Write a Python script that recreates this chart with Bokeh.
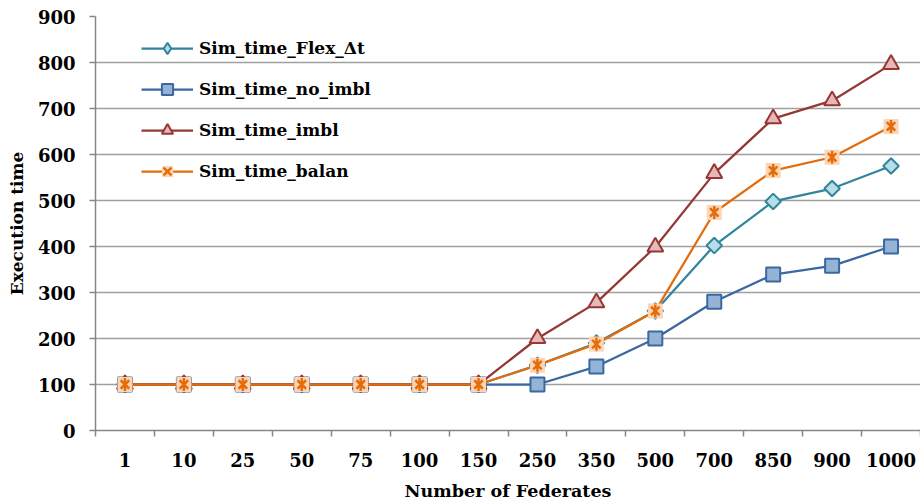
import numpy as np
from bokeh.plotting import figure
from bokeh.models import Range1d, FixedTicker, Legend, LegendItem
from bokeh.embed import file_html
from bokeh.resources import INLINE

categories = ["1", "10", "25", "50", "75", "100", "150", "250", "350", "500", "700", "850", "900", "1000"]
sim_flex = [100, 100, 100, 100, 100, 100, 100, 142, 190, 260, 402, 498, 526, 575]
sim_no_imbl = [100, 100, 100, 100, 100, 100, 100, 100, 139, 200, 280, 339, 358, 400]
sim_imbl = [100, 100, 100, 100, 100, 100, 100, 200, 278, 399, 559, 678, 717, 796]
sim_balan = [100, 100, 100, 100, 100, 100, 100, 142, 188, 260, 474, 565, 594, 661]
y_ticks = [0, 100, 200, 300, 400, 500, 600, 700, 800, 900]

FONT = "DejaVu Serif"
n = len(categories)
xs = np.arange(n) + 0.5

p = figure(width=920, height=503, output_backend="svg", toolbar_location=None,
           x_range=Range1d(0, n), y_range=Range1d(0, 900),
           min_border_left=95, min_border_right=0, min_border_top=16, min_border_bottom=73)
p.outline_line_color = None
p.background_fill_color = "white"
p.border_fill_color = "white"

# grid
p.xgrid.grid_line_color = None
p.ygrid.grid_line_color = "#a0a0a0"
p.ygrid.grid_line_width = 1.3
p.ygrid.ticker = FixedTicker(ticks=y_ticks)

# y axis
p.yaxis.ticker = FixedTicker(ticks=y_ticks)
p.yaxis.axis_line_color = "#868686"
p.yaxis.axis_line_width = 1.5
p.yaxis.major_tick_line_color = "#868686"
p.yaxis.major_tick_line_width = 1.5
p.yaxis.major_tick_out = 6
p.yaxis.major_tick_in = 0
p.yaxis.minor_tick_line_color = None
p.yaxis.major_label_standoff = 14
p.yaxis.major_label_text_font = FONT
p.yaxis.major_label_text_font_style = "bold"
p.yaxis.major_label_text_font_size = "18px"
p.yaxis.major_label_text_color = "black"
p.yaxis.axis_label = "Execution time"
p.yaxis.axis_label_text_font = FONT
p.yaxis.axis_label_text_font_style = "bold"
p.yaxis.axis_label_text_font_size = "17px"
p.yaxis.axis_label_text_color = "black"
p.yaxis.axis_label_standoff = 8

# x axis: labels at category centres, ticks at boundaries (minor ticks)
p.xaxis.ticker = FixedTicker(ticks=list(xs), minor_ticks=list(range(n + 1)))
p.xaxis.major_label_overrides = {float(x): c for x, c in zip(xs, categories)}
p.xaxis.axis_line_color = "#868686"
p.xaxis.axis_line_width = 1.5
p.xaxis.major_tick_line_color = None
p.xaxis.major_tick_out = 0
p.xaxis.major_tick_in = 0
p.xaxis.minor_tick_line_color = "#868686"
p.xaxis.minor_tick_line_width = 1.5
p.xaxis.minor_tick_out = 6
p.xaxis.minor_tick_in = 0
p.xaxis.major_label_standoff = 16
p.xaxis.major_label_text_font = FONT
p.xaxis.major_label_text_font_style = "bold"
p.xaxis.major_label_text_font_size = "18px"
p.xaxis.major_label_text_color = "black"
p.xaxis.axis_label = "Number of Federates"
p.xaxis.axis_label_text_font = FONT
p.xaxis.axis_label_text_font_style = "bold"
p.xaxis.axis_label_text_font_size = "17.5px"
p.xaxis.axis_label_text_color = "black"
p.xaxis.axis_label_standoff = 11

# series
c_flex, f_flex = "#31859c", "#b7dee8"
c_no, f_no = "#3b68a0", "#95b3d7"
c_im, f_im = "#953735", "#e6b9b8"
c_ba, f_ba = "#e46c0a", "#fcd5b5"
LW = 2.25

l1 = p.line(xs, sim_flex, line_color=c_flex, line_width=LW)
# diamond hidden under the rotated square; used for the legend glyph
m1_leg = p.scatter(xs, sim_flex, marker="diamond", size=13,
                   fill_color=f_flex, line_color=c_flex, line_width=2)
m1 = p.scatter(xs, sim_flex, marker="square", angle=np.pi / 4, size=11,
               fill_color=f_flex, line_color=c_flex, line_width=2)

l2 = p.line(xs, sim_no_imbl, line_color=c_no, line_width=LW)
m2 = p.scatter(xs, sim_no_imbl, marker="square", size=14,
               fill_color=f_no, line_color=c_no, line_width=2)

l3 = p.line(xs, sim_imbl, line_color=c_im, line_width=LW)
m3 = p.scatter(xs, sim_imbl, marker="triangle", size=16,
               fill_color=f_im, line_color=c_im, line_width=2)

l4 = p.line(xs, sim_balan, line_color=c_ba, line_width=LW)
m4a = p.scatter(xs, sim_balan, marker="square", size=15,
                fill_color=f_ba, line_color=None)
m4b = p.scatter(xs, sim_balan, marker="x", size=12,
                line_color=c_ba, line_width=2.5)
m4c = p.scatter(xs, sim_balan, marker="dash", angle=np.pi / 2, size=13,
                line_color=c_ba, line_width=2.5)

legend = Legend(items=[
    LegendItem(label="Sim_time_Flex_Δt", renderers=[l1, m1_leg]),
    LegendItem(label="Sim_time_no_imbl", renderers=[l2, m2]),
    LegendItem(label="Sim_time_imbl", renderers=[l3, m3]),
    LegendItem(label="Sim_time_balan", renderers=[l4, m4a, m4b]),
], location=(46, 245))
legend.background_fill_alpha = 0
legend.border_line_color = None
legend.padding = 0
legend.margin = 0
legend.glyph_width = 52
legend.glyph_height = 28
legend.label_height = 28
legend.spacing = 13
legend.label_standoff = 6
legend.label_text_font = FONT
legend.label_text_font_style = "bold"
legend.label_text_font_size = "17px"
legend.label_text_color = "black"
p.add_layout(legend, "center")

open("out.html", "w").write(file_html(p, INLINE))
